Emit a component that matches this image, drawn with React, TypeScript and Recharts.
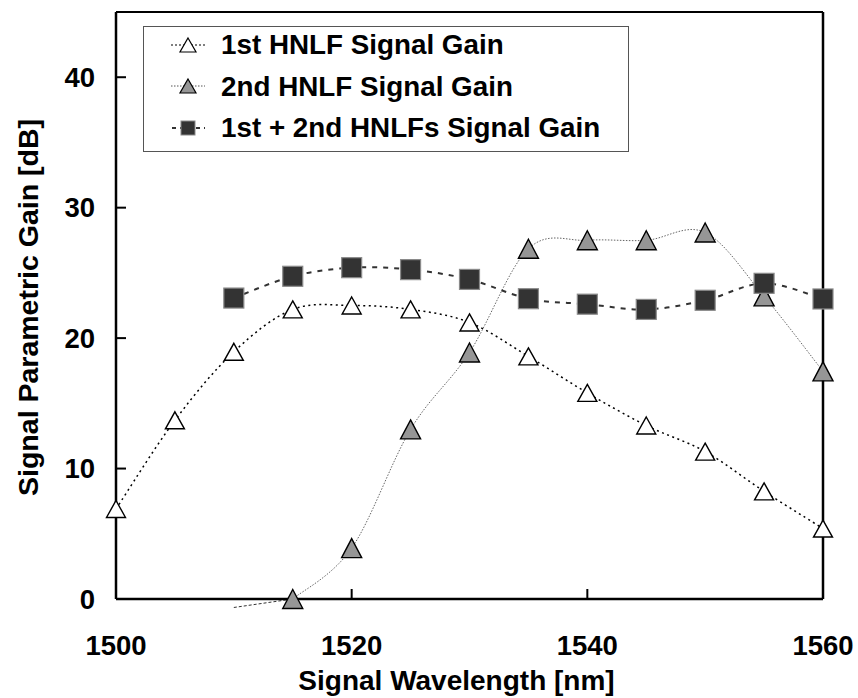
import React from 'react';
import { LineChart, Line, XAxis, YAxis, ReferenceLine, Legend } from 'recharts';

const wavelengths = [1500, 1505, 1510, 1515, 1520, 1525, 1530, 1535, 1540, 1545, 1550, 1555, 1560];
const firstGain = [6.9, 13.7, 18.95, 22.2, 22.5, 22.2, 21.2, 18.6, 15.8, 13.3, 11.3, 8.25, 5.4];
const secondGain = [null, null, null, 0, 3.9, 13.0, 18.9, 26.85, 27.5, 27.5, 28.1, 23.2, 17.45];
const combinedGain = [null, null, 23.07, 24.74, 25.4, 25.25, 24.5, 23.02, 22.6, 22.2, 22.9, 24.2, 23.0];
// leading part of the 2nd HNLF curve, which runs just below the axis
const secondLeadX = [1510, 1515];
const secondLeadY = [-0.65, 0];

const xTicks = [1500, 1520, 1540, 1560];
const yTicks = [0, 10, 20, 30, 40];
const seriesNames = ['1st HNLF Signal Gain', '2nd HNLF Signal Gain', '1st + 2nd HNLFs Signal Gain'];

const data = wavelengths.map((w, i) => ({
  w,
  first: firstGain[i],
  second: secondGain[i],
  combined: combinedGain[i],
}));

const FONT = '"Liberation Sans", Arial, sans-serif';

// Spreadsheet-style smoothed line (Catmull-Rom through the points)
const smoothCurve = (context: any) => {
  let pts: number[][] = [];
  return {
    areaStart() {},
    areaEnd() {},
    lineStart() {
      pts = [];
    },
    point(x: number, y: number) {
      pts.push([+x, +y]);
    },
    lineEnd() {
      const n = pts.length;
      if (n === 0) return;
      context.moveTo(pts[0][0], pts[0][1]);
      if (n === 1) return;
      for (let i = 0; i < n - 1; i++) {
        const p0 = pts[i - 1] || pts[i];
        const p1 = pts[i];
        const p2 = pts[i + 1];
        const p3 = pts[i + 2] || pts[i + 1];
        const c1x = p1[0] + (p2[0] - p0[0]) / 6;
        const c1y = p1[1] + (p2[1] - p0[1]) / 6;
        const c2x = p2[0] - (p3[0] - p1[0]) / 6;
        const c2y = p2[1] - (p3[1] - p1[1]) / 6;
        context.bezierCurveTo(c1x, c1y, c2x, c2y, p2[0], p2[1]);
      }
    },
  };
};

const triPath = (cx: number, cy: number, w: number, h: number) =>
  `M${cx},${cy - h / 2} L${cx + w / 2},${cy + h / 2} L${cx - w / 2},${cy + h / 2} Z`;

const WhiteTri = (props: any) => {
  const { cx, cy, value } = props;
  if (cx == null || cy == null || value == null) return null;
  return <path key={`w${props.index}`} d={triPath(cx, cy, 19, 17)} fill="#fff" stroke="#000" strokeWidth={1.4} />;
};
const GrayTri = (props: any) => {
  const { cx, cy, value } = props;
  if (cx == null || cy == null || value == null) return null;
  return <path key={`g${props.index}`} d={triPath(cx, cy, 20, 19)} fill="#969696" stroke="#000" strokeWidth={1.4} />;
};
const DarkSq = (props: any) => {
  const { cx, cy, value } = props;
  if (cx == null || cy == null || value == null) return null;
  return <rect key={`s${props.index}`} x={cx - 10} y={cy - 10} width={20} height={20} fill="#333333" stroke="#8a8a8a" strokeWidth={1.2} />;
};

const LegendBox = () => {
  const icons = [
    (
      <svg width={34} height={20}>
        <line x1={0} y1={10} x2={34} y2={10} stroke="#000" strokeWidth={1.2} strokeDasharray="2 2" />
        <path d={triPath(17, 10, 16, 14)} fill="#fff" stroke="#000" strokeWidth={1.2} />
      </svg>
    ),
    (
      <svg width={34} height={20}>
        <line x1={0} y1={10} x2={34} y2={10} stroke="#555" strokeWidth={1} strokeDasharray="1.5 1.5" />
        <path d={triPath(17, 10, 16, 14)} fill="#969696" stroke="#000" strokeWidth={1.2} />
      </svg>
    ),
    (
      <svg width={34} height={20}>
        <line x1={0} y1={10} x2={34} y2={10} stroke="#333" strokeWidth={2} strokeDasharray="4 4" strokeDashoffset={-1} />
        <rect x={10} y={3} width={14} height={14} fill="#333" stroke="#8a8a8a" strokeWidth={1} />
      </svg>
    ),
  ];
  return (
    <div
      style={{
        width: 486,
        height: 126,
        border: '1px solid #555',
        boxSizing: 'border-box',
        background: '#fff',
        fontFamily: FONT,
        fontWeight: 'bold',
        fontSize: 27.8,
        color: '#000',
        paddingTop: 0,
      }}
    >
      {seriesNames.map((n, i) => (
        <div key={n} style={{ display: 'flex', alignItems: 'center', height: 41.5, marginTop: i === 0 ? -3 : 0, paddingLeft: 27, whiteSpace: 'nowrap' }}>
          <div style={{ width: 50, display: 'flex', alignItems: 'center' }}>{icons[i]}</div>
          <span style={{ lineHeight: '41.5px' }}>{n}</span>
        </div>
      ))}
    </div>
  );
};

const YTitle = (props: any) => {
  const vb = props.viewBox;
  const x = vb.x + 28;
  const y = vb.y + vb.height / 2 + 2;
  return (
    <text
      x={x}
      y={y}
      transform={`rotate(-90 ${x} ${y})`}
      textAnchor="middle"
      dominantBaseline="central"
      fontFamily={FONT}
      fontWeight="bold"
      fontSize={28.5}
      fill="#000"
    >
      Signal Parametric Gain [dB]
    </text>
  );
};

export default function App() {
  const tickStyle = { fill: '#000', fontSize: 27.5, fontWeight: 'bold', fontFamily: FONT };
  return (
    <div style={{ position: 'absolute', left: 0, top: 0, width: 858, height: 698, background: '#fff' }}>
      <LineChart width={858} height={698} data={data} margin={{ top: 12, right: 35, left: 0, bottom: 0 }}>
        <XAxis
          dataKey="w"
          type="number"
          domain={[1500, 1560]}
          ticks={xTicks}
          tick={tickStyle}
          tickSize={-10}
          tickMargin={46}
          height={99}
          axisLine={{ stroke: '#000', strokeWidth: 2.5 }}
          tickLine={{ stroke: '#000', strokeWidth: 2 }}
          label={{
            value: 'Signal Wavelength [nm]',
            position: 'insideBottom',
            offset: 8,
            dx: -13,
            style: { fill: '#000', fontSize: 28, fontWeight: 'bold', fontFamily: FONT },
          }}
        />
        <YAxis
          type="number"
          domain={[0, 45]}
          ticks={yTicks}
          tick={tickStyle}
          tickSize={-10}
          tickMargin={31}
          width={116}
          axisLine={{ stroke: '#000', strokeWidth: 2.5 }}
          tickLine={{ stroke: '#000', strokeWidth: 2 }}
          label={{ content: YTitle }}
        />
        <ReferenceLine y={45} stroke="#000" strokeWidth={2} />
        <ReferenceLine x={1560} stroke="#000" strokeWidth={2.5} />
        <ReferenceLine
          segment={[
            { x: secondLeadX[0], y: secondLeadY[0] },
            { x: secondLeadX[1], y: secondLeadY[1] },
          ]}
          ifOverflow="visible"
          stroke="#333"
          strokeWidth={1}
          strokeDasharray="3 2"
        />
        <Line
          dataKey="first"
          type={smoothCurve as any}
          stroke="#000"
          strokeWidth={1.5}
          strokeDasharray="2 3.5"
          dot={WhiteTri}
          activeDot={false}
          legendType="none"
          isAnimationActive={false}
        />
        <Line
          dataKey="second"
          type={smoothCurve as any}
          stroke="#666"
          strokeWidth={1}
          strokeDasharray="1.5 1.5"
          dot={GrayTri}
          activeDot={false}
          legendType="none"
          isAnimationActive={false}
        />
        <Line
          dataKey="combined"
          type={smoothCurve as any}
          stroke="#333"
          strokeWidth={2}
          strokeDasharray="5 6"
          dot={DarkSq}
          activeDot={false}
          legendType="none"
          isAnimationActive={false}
        />
        <Legend
          layout="horizontal"
          verticalAlign="middle"
          align="center"
          content={() => <LegendBox />}
          wrapperStyle={{ left: 143, top: 26, width: 486, height: 126 }}
        />
      </LineChart>
    </div>
  );
}
